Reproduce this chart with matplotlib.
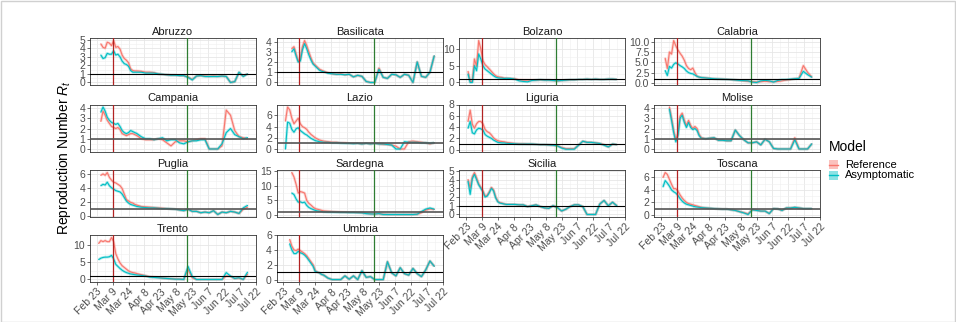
import numpy as np
import pandas as pd
import matplotlib
matplotlib.use("Agg")
import matplotlib.pyplot as plt
from matplotlib.lines import Line2D
from matplotlib.patches import Rectangle

plt.rcParams['font.family'] = ['Liberation Sans', 'DejaVu Sans']
plt.rcParams['mathtext.fontset'] = 'custom'
plt.rcParams['mathtext.rm'] = 'Liberation Sans'
plt.rcParams['mathtext.it'] = 'Liberation Sans:italic'

N = np.nan

# estimation dates: every 2 days until April 1, then every 4 days
early_dates = pd.date_range('2020-02-25', '2020-04-01', freq='2D')
late_dates = pd.date_range('2020-04-05', '2020-07-14', freq='4D')
dates = early_dates.append(late_dates)

lockdown_date = pd.Timestamp('2020-03-09')
reopening_date = pd.Timestamp('2020-05-18')

x_tick_dates = pd.date_range('2020-02-23', '2020-07-22', freq='15D')
x_tick_labels = ['Feb 23', 'Mar 9', 'Mar 24', 'Apr 8', 'Apr 23', 'May 8',
                 'May 23', 'Jun 7', 'Jun 22', 'Jul 7', 'Jul 22']

regions = ['Abruzzo', 'Basilicata', 'Bolzano', 'Calabria',
           'Campania', 'Lazio', 'Liguria', 'Molise',
           'Puglia', 'Sardegna', 'Sicilia', 'Toscana',
           'Trento', 'Umbria']

abruzzo_ref = [N, 4.5, 4.1, 4.0, 4.7, 4.6, 4.3, 4.9, 4.1, 4.2, 3.9, 3.2, 2.8, 2.6, 2.3, 1.6, 1.4, 1.35, 1.35,
               1.3, 1.2, 1.2, 1.15, 1.0, 0.95, 0.9, 0.85, 0.85, 0.8, 0.8, 0.65, 0.35, 0.75, 0.8, 0.75, 0.7,
               0.75, 0.7, 0.75, 0.7, 0.0, 0.1, 1.15, 0.75, 1.0]
abruzzo_asym = [N, 3.2, 2.8, 2.9, 3.4, 3.3, 3.3, 3.7, 3.2, 3.3, 3.0, 2.5, 2.2, 2.1, 1.9, 1.4, 1.2, 1.2, 1.2,
                1.2, 1.1, 1.1, 1.1, 1.0, 0.95, 0.9, 0.85, 0.85, 0.8, 0.8, 0.6, 0.3, 0.75, 0.8, 0.7, 0.7,
                0.7, 0.7, 0.75, 0.7, 0.0, 0.1, 1.2, 0.7, 1.0]

basilicata_ref = [N, N, N, 3.3, 3.5, 2.8, 2.1, 2.3, 3.5, 4.1, 3.6, 3.0, 2.4, 1.9, 1.7, 1.5, 1.3, 1.2, 1.1,
                  0.95, 0.85, 0.8, 0.85, 0.75, 0.8, 0.55, 0.7, 0.6, 0.1, 0.0, 0.0, 1.4, 0.5, 0.4, 0.8, 0.75,
                  0.5, 0.8, 0.7, 0.0, 2.0, 0.6, 0.5, 1.0, 2.6]
basilicata_asym = [N, N, N, 3.0, 3.3, 2.6, 2.0, 2.1, 3.2, 3.8, 3.3, 2.7, 2.2, 1.8, 1.6, 1.4, 1.2, 1.1, 1.05,
                   0.9, 0.85, 0.8, 0.8, 0.75, 0.8, 0.55, 0.7, 0.6, 0.1, 0.0, 0.0, 1.3, 0.5, 0.4, 0.8, 0.75,
                   0.5, 0.8, 0.7, 0.0, 2.0, 0.6, 0.5, 1.0, 2.6]

bolzano_ref = [3.3, 0.3, 0.3, 7.0, 4.8, 12.5, 10.0, 6.5, 5.3, 4.7, 4.0, 3.3, 2.6, 2.0, 1.7, 1.6, 1.5, 1.3, 1.25,
               1.2, 1.1, 0.8, 0.7, 0.7, 0.7, 0.7, 0.8, 0.7, 0.7, 0.6, 0.5, 0.6, 0.7, 0.8, 0.8,
               0.9, 0.9, 1.0, 0.9, 1.0, 0.9, 0.9, 1.0, 1.0, 0.9]
bolzano_asym = [2.5, 0.0, 0.0, 5.0, 3.5, 8.5, 7.0, 5.0, 4.0, 3.5, 3.0, 2.5, 2.0, 1.6, 1.4, 1.3, 1.3, 1.2, 1.25,
                1.2, 1.0, 0.5, 0.3, 0.2, 0.6, 0.7, 0.8, 0.7, 0.7, 0.6, 0.5, 0.6, 0.7, 0.8, 0.8,
                0.9, 0.9, 1.0, 0.9, 1.0, 0.9, 0.9, 1.0, 1.0, 0.9]

calabria_ref = [N, 6.0, 3.5, 7.5, 7.0, 10.3, 9.0, 8.0, 7.2, 6.5, 5.5, 4.2, 3.5, 3.2, 3.6, 2.5, 1.6, 1.4, 1.3,
                1.2, 1.1, 1.0, 0.95, 0.9, 0.85, 0.8, 0.7, 0.6, 0.5, 0.4, 0.3, 0.2, 0.3, 0.4, 0.3,
                0.3, 0.35, 0.5, 0.7, 0.8, 1.0, 1.1, 4.2, 2.6, 1.4]
calabria_asym = [N, 3.0, 1.8, 4.0, 3.6, 4.5, 4.9, 4.6, 4.2, 3.9, 3.5, 2.9, 2.5, 2.3, 2.2, 1.9, 1.6, 1.4, 1.3,
                 1.2, 1.1, 1.0, 0.95, 0.9, 0.85, 0.8, 0.7, 0.6, 0.55, 0.5, 0.2, 0.1, 0.5, 0.6, 0.5,
                 0.2, 0.6, 0.8, 0.8, 0.9, 1.0, 1.1, 2.8, 2.0, 1.4]

campania_ref = [N, 2.7, 3.7, 3.3, 2.8, 2.5, 2.2, 2.1, 2.0, 2.1, 1.9, 1.5, 1.4, 1.3, 1.4, 1.5, 1.5, 1.4, 1.3,
                1.0, 0.9, 0.9, 0.9, 1.0, 0.9, 0.6, 0.3, 0.7, 0.8, 0.8, 0.7, 0.8, 0.9, 1.0, 1.0,
                0.0, 0.0, 0.0, 0.3, 3.8, 3.3, 1.8, 1.2, 1.1, 1.0]
campania_asym = [N, 3.6, 4.1, 3.7, 3.1, 2.8, 2.6, 2.5, 2.4, 2.5, 2.2, 1.8, 1.6, 1.5, 1.6, 1.8, 1.7, 1.6, 1.5,
                 1.2, 1.0, 1.0, 0.9, 1.0, 1.1, 0.8, 0.9, 0.9, 0.6, 0.5, 0.7, 0.8, 0.8, 0.9, 0.9,
                 0.0, 0.0, 0.0, 0.5, 1.6, 2.0, 1.4, 1.2, 1.0, 1.1]

lazio_ref = [5.0, 7.5, 7.0, 5.5, 4.5, 5.0, 5.5, 4.5, 4.0, 3.8, 3.5, 3.0, 2.6, 2.3, 2.0, 1.8, 1.6, 1.5, 1.4,
             1.3, 1.2, 1.2, 1.1, 1.1, 1.0, 1.0, 1.0, 0.9, 1.0, 0.9, 1.0, 0.9, 0.8, 0.8, 0.7,
             0.5, 0.0, 0.0, 1.3, 1.4, 1.3, 1.2, 1.1, 0.9, 1.1]
lazio_asym = [0.0, 4.8, 4.6, 3.5, 3.0, 3.6, 3.8, 3.3, 3.0, 2.7, 2.5, 2.2, 1.9, 1.7, 1.5, 1.4, 1.3, 1.25, 1.2,
              1.2, 1.1, 1.1, 1.05, 1.0, 1.0, 0.95, 1.0, 0.9, 1.0, 0.9, 1.0, 0.9, 0.9, 0.8, 0.7,
              0.0, 0.0, 1.3, 1.2, 1.2, 1.2, 1.1, 1.1, 1.0, 1.1]

liguria_ref = [5.0, 7.0, 4.5, 3.8, 4.6, 5.0, 5.0, 4.6, 3.6, 3.2, 3.0, 2.6, 2.1, 1.8, 1.6, 1.5, 1.45, 1.4, 1.3,
               1.2, 1.1, 1.05, 1.05, 1.0, 1.0, 0.95, 0.9, 0.9, 0.85, 0.8, 0.7, 0.4, 0.2, 0.2, 0.2,
               0.8, 1.5, 1.3, 1.3, 1.2, 1.1, 0.9, 0.5, 1.0, 0.9]
liguria_asym = [3.8, 5.0, 3.0, 2.8, 3.5, 3.8, 3.7, 3.5, 2.7, 2.4, 2.2, 2.0, 1.7, 1.5, 1.3, 1.25, 1.2, 1.2, 1.15,
                1.1, 1.05, 1.0, 1.0, 1.0, 1.0, 0.95, 0.9, 0.9, 0.85, 0.8, 0.7, 0.3, 0.1, 0.1, 0.1,
                0.8, 1.5, 1.3, 1.3, 1.2, 1.1, 0.8, 0.5, 1.0, 0.9]

molise_ref = [N, N, N, 4.1, 3.0, 1.8, 0.9, 1.5, 3.2, 3.5, 2.8, 2.3, 2.8, 2.3, 2.0, 2.2, 2.0, 1.4, 1.1,
              1.0, 1.05, 1.1, 0.85, 0.85, 0.8, 0.8, 1.85, 1.3, 0.9, 0.6, 0.6, 0.7, 0.4, 0.95, 0.7,
              0.05, 0.0, 0.0, 0.0, 0.0, 1.1, 0.0, 0.0, 0.0, 0.5]
molise_asym = [N, N, N, 3.9, 2.8, 1.6, 0.7, 1.3, 3.0, 3.3, 2.6, 2.1, 2.6, 2.1, 1.9, 2.0, 1.8, 1.3, 1.05,
               1.0, 1.05, 1.1, 0.85, 0.85, 0.8, 0.8, 1.85, 1.3, 0.9, 0.6, 0.6, 0.7, 0.4, 0.95, 0.7,
               0.05, 0.0, 0.0, 0.0, 0.0, 0.9, 0.0, 0.0, 0.0, 0.5]

puglia_ref = [N, 5.8, 6.0, 5.8, 6.2, 5.5, 5.1, 4.8, 4.7, 4.5, 4.3, 3.9, 3.1, 2.3, 2.1, 1.9, 1.8, 1.6, 1.5,
              1.3, 1.25, 1.2, 1.15, 1.1, 1.05, 1.0, 0.95, 0.9, 0.8, 0.7, 0.9, 0.6, 0.6, 0.4, 0.5,
              0.4, 0.7, 0.15, 0.5, 0.4, 0.6, 0.5, 0.3, 0.9, 1.2]
puglia_asym = [N, 4.3, 4.5, 4.4, 4.8, 4.3, 4.0, 3.8, 3.6, 3.5, 3.4, 3.1, 2.6, 2.1, 1.8, 1.6, 1.5, 1.4, 1.3,
               1.2, 1.15, 1.1, 1.1, 1.05, 1.0, 1.0, 0.95, 0.9, 0.8, 0.7, 0.9, 0.6, 0.6, 0.4, 0.5,
               0.4, 0.7, 0.15, 0.5, 0.4, 0.6, 0.5, 0.3, 1.1, 1.45]

sardegna_ref = [N, N, N, 14.5, 13.0, 10.5, 7.5, 8.0, 7.8, 7.5, 5.0, 4.0, 3.4, 2.7, 2.2, 2.0, 1.8, 1.6, 1.4,
                1.3, 1.2, 1.1, 1.0, 0.95, 0.9, 0.9, 0.85, 0.8, 0.6, 0.45, 0.4, 0.5, 0.3, 0.2, 0.2,
                0.2, 0.2, 0.2, 0.2, 0.2, 0.3, 0.8, 1.7, 2.1, 1.9]
sardegna_asym = [N, N, N, 7.5, 7.0, 5.5, 4.4, 4.5, 4.2, 4.4, 3.3, 2.6, 2.2, 1.9, 1.6, 1.4, 1.3, 1.2, 1.1,
                 1.0, 1.0, 0.95, 0.9, 0.9, 0.85, 0.85, 0.8, 0.75, 0.5, 0.4, 0.35, 0.5, 0.2, 0.2, 0.2,
                 0.2, 0.2, 0.2, 0.2, 0.2, 0.3, 1.2, 2.0, 2.4, 2.0]

sicilia_ref = [4.0, 3.0, 4.3, 4.8, 4.2, 3.5, 3.1, 2.7, 2.1, 2.2, 2.6, 3.1, 2.8, 2.0, 1.5, 1.35, 1.3, 1.2, 1.15,
               1.15, 1.15, 1.1, 1.1, 0.9, 1.0, 1.1, 0.9, 0.75, 0.7, 1.0, 0.8, 0.4, 0.6, 0.9, 1.1,
               1.1, 0.9, 0.0, 0.0, 0.0, 1.2, 1.6, 1.0, 1.4, 1.0]
sicilia_asym = [3.8, 2.3, 4.1, 4.6, 4.0, 3.4, 3.0, 2.6, 2.0, 2.1, 2.5, 3.0, 2.7, 1.9, 1.45, 1.3, 1.25, 1.2, 1.15,
                1.15, 1.15, 1.1, 1.1, 0.9, 1.0, 1.1, 0.9, 0.75, 0.7, 1.0, 0.8, 0.4, 0.6, 0.9, 1.1,
                1.1, 0.9, 0.0, 0.0, 0.0, 1.2, 1.6, 1.0, 1.4, 1.0]

toscana_ref = [6.0, 6.8, 6.5, 5.7, 4.9, 4.2, 4.2, 3.8, 3.2, 2.7, 2.3, 2.0, 1.8, 1.7, 1.6, 1.5, 1.4, 1.3, 1.2,
               1.1, 1.05, 1.0, 0.95, 0.9, 0.9, 0.8, 0.7, 0.5, 0.35, 0.15, 0.8, 0.75, 0.6, 0.6, 0.2,
               1.0, 0.95, 0.7, 1.1, 1.1, 1.2, 1.1, 1.0, 1.0, 1.0]
toscana_asym = [4.5, 5.5, 5.1, 4.6, 4.0, 3.7, 3.5, 3.1, 2.6, 2.2, 1.9, 1.7, 1.6, 1.5, 1.4, 1.3, 1.25, 1.2, 1.15,
                1.1, 1.05, 1.0, 0.95, 0.9, 0.9, 0.8, 0.7, 0.5, 0.3, 0.05, 0.8, 0.7, 0.6, 0.6, 0.2,
                1.0, 0.95, 0.7, 1.1, 1.1, 1.2, 1.1, 1.0, 1.0, 1.0]

trento_ref = [10.5, 11.3, 11.0, 11.3, 11.0, 11.0, 12.2, 11.0, 7.5, 6.0, 4.8, 4.0, 3.5, 3.0, 2.5, 2.2, 2.0, 1.9, 1.7,
              1.4, 1.1, 0.8, 0.7, 0.6, 0.4, 0.3, 0.2, 0.15, 0.1, 0.0, 3.0, 0.5, 0.0, 0.0, 0.0,
              0.0, 0.0, 0.0, 0.0, 1.0, 0.9, 0.3, 0.4, 0.0, 1.5]
trento_asym = [5.8, 6.2, 6.4, 6.5, 6.5, 6.6, 7.0, 6.0, 4.4, 3.8, 3.2, 2.7, 2.3, 2.0, 1.8, 1.6, 1.5, 1.4, 1.3,
               1.2, 1.0, 0.7, 0.6, 0.5, 0.4, 0.3, 0.2, 0.1, 0.1, 0.0, 3.8, 0.8, 0.0, 0.0, 0.0,
               0.0, 0.0, 0.0, 0.0, 2.0, 1.0, 0.3, 0.5, 0.0, 2.1]

umbria_ref = [N, N, 5.4, 4.5, 4.0, 3.9, 4.1, 3.9, 3.7, 3.5, 3.2, 2.8, 2.4, 2.0, 1.2, 1.0, 0.9, 0.7, 0.6,
              0.2, 0.0, 0.0, 0.0, 0.5, 0.05, 0.5, 0.0, 1.2, 0.3, 0.4, 0.0, 0.0, 0.0, 2.4, 0.9,
              0.5, 1.6, 0.8, 0.6, 1.5, 0.8, 0.4, 1.3, 2.5, 1.8]
umbria_asym = [N, N, 4.8, 4.0, 3.5, 3.5, 3.8, 3.6, 3.5, 3.3, 3.0, 2.6, 2.2, 1.8, 1.1, 1.0, 0.9, 0.7, 0.6,
               0.2, 0.0, 0.0, 0.0, 0.5, 0.05, 0.5, 0.0, 1.2, 0.3, 0.4, 0.0, 0.0, 0.0, 2.4, 0.9,
               0.5, 1.6, 0.8, 0.6, 1.5, 0.8, 0.4, 1.3, 2.5, 1.8]

reference_series = [abruzzo_ref, basilicata_ref, bolzano_ref, calabria_ref,
                    campania_ref, lazio_ref, liguria_ref, molise_ref,
                    puglia_ref, sardegna_ref, sicilia_ref, toscana_ref,
                    trento_ref, umbria_ref]
asymptomatic_series = [abruzzo_asym, basilicata_asym, bolzano_asym, calabria_asym,
                       campania_asym, lazio_asym, liguria_asym, molise_asym,
                       puglia_asym, sardegna_asym, sicilia_asym, toscana_asym,
                       trento_asym, umbria_asym]

y_ticks = [[0, 1, 2, 3, 4, 5], [0, 1, 2, 3, 4], [0, 5, 10], [0, 2.5, 5, 7.5, 10],
           [0, 1, 2, 3, 4], [0, 2, 4, 6], [0, 2, 4, 6, 8], [0, 1, 2, 3, 4],
           [0, 2, 4, 6], [0, 5, 10, 15], [0, 1, 2, 3, 4, 5], [0, 2, 4, 6],
           [0, 5, 10], [0, 2, 4, 6]]
y_tick_labels = [['0', '1', '2', '3', '4', '5'], ['0', '1', '2', '3', '4'], ['0', '5', '10'],
                 ['0.0', '2.5', '5.0', '7.5', '10.0'],
                 ['0', '1', '2', '3', '4'], ['0', '2', '4', '6'], ['0', '2', '4', '6', '8'],
                 ['0', '1', '2', '3', '4'],
                 ['0', '2', '4', '6'], ['0', '5', '10', '15'], ['0', '1', '2', '3', '4', '5'],
                 ['0', '2', '4', '6'],
                 ['0', '5', '10'], ['0', '2', '4', '6']]

REF_COLOR = '#F8766D'
ASYM_COLOR = '#00BFC4'

W, H = 956, 322
fig = plt.figure(figsize=(W / 100, H / 100), dpi=100)
fig.patch.set_facecolor('white')

col_left = [90, 276.7, 459.3, 654.3]
row_top = [38, 104.5, 170, 235]
panel_w, panel_h = 166, 47

# panels whose threshold line is rendered heavier and grey
grey_threshold = {'Campania', 'Lazio', 'Molise', 'Puglia', 'Sardegna', 'Toscana'}
# panels carrying the date axis
bottom_panels = {'Sicilia', 'Toscana', 'Trento', 'Umbria'}

x_lo = pd.Timestamp('2020-02-16 18:00')
x_hi = pd.Timestamp('2020-07-22 00:00')
x_minor = x_tick_dates[:-1] + pd.Timedelta(hours=180)

for i, name in enumerate(regions):
    r, c = divmod(i, 4)
    x, y = col_left[c], row_top[r]
    ax = fig.add_axes([x / W, 1 - (y + panel_h) / H, panel_w / W, panel_h / H])
    ax.set_facecolor('white')
    ref = np.array(reference_series[i], dtype=float)
    asym = np.array(asymptomatic_series[i], dtype=float)

    # shaded bands then central estimates
    ax.plot(dates, ref, color=REF_COLOR, lw=2.0, alpha=0.3, solid_capstyle='butt', zorder=2)
    ax.plot(dates, asym, color=ASYM_COLOR, lw=2.0, alpha=0.3, solid_capstyle='butt', zorder=2)
    ax.plot(dates, ref, color=REF_COLOR, lw=0.8, zorder=3)
    ax.plot(dates, asym, color=ASYM_COLOR, lw=0.8, zorder=3)

    ax.axvline(lockdown_date, color='#B22222', lw=0.9, zorder=4)
    ax.axvline(reopening_date, color='#2E7D32', lw=0.9, zorder=4)
    if name in grey_threshold:
        ax.axhline(1, color='#555555', lw=1.2, zorder=4)
    else:
        ax.axhline(1, color='black', lw=0.8, zorder=4)

    lo = np.nanmin([np.nanmin(ref), np.nanmin(asym)])
    hi = np.nanmax([np.nanmax(ref), np.nanmax(asym)])
    span = hi - lo
    ax.set_ylim(lo - 0.06 * span, hi + 0.06 * span)
    ax.set_xlim(x_lo, x_hi)

    ax.set_yticks(y_ticks[i])
    ax.set_yticklabels(y_tick_labels[i])
    yt = y_ticks[i]
    ax.set_yticks([(a + b) / 2 for a, b in zip(yt[:-1], yt[1:])], minor=True)
    ax.set_xticks(x_tick_dates)
    ax.set_xticks(x_minor, minor=True)

    ax.grid(which='major', color='#E6E6E6', lw=0.6)
    ax.grid(which='minor', color='#F0F0F0', lw=0.4)
    ax.set_axisbelow(True)

    for s in ax.spines.values():
        s.set_color('#333333')
        s.set_linewidth(0.6)

    ax.tick_params(axis='y', which='major', length=2, width=0.5, color='#333333',
                   labelsize=7.5, labelcolor='#4D4D4D', pad=1.5)
    ax.tick_params(axis='both', which='minor', length=0)
    if name in bottom_panels:
        ax.set_xticklabels(x_tick_labels, rotation=45, ha='right', rotation_mode='anchor')
        ax.tick_params(axis='x', which='major', length=2, width=0.5, color='#333333',
                       labelsize=7.5, labelcolor='#4D4D4D', pad=1.5)
    else:
        ax.tick_params(axis='x', which='major', length=0, labelbottom=False)

    ax.set_title(name, fontsize=8, color='#1A1A1A', pad=2.5)

fig.text(64 / W, 1 - 158 / H, 'Reproduction Number $R_t$', rotation=90,
         ha='center', va='center', fontsize=10, color='black')

# legend
fig.text(829 / W, 1 - 147 / H, 'Model', ha='left', va='center', fontsize=10, color='black')
legend_items = [('Reference', REF_COLOR, 164.5), ('Asymptomatic', ASYM_COLOR, 175)]
for label, col, yc in legend_items:
    fig.add_artist(Rectangle((829 / W, 1 - (yc + 4.5) / H), 9 / W, 9 / H,
                             transform=fig.transFigure, facecolor=col, alpha=0.45,
                             edgecolor='none'))
    fig.add_artist(Line2D([829 / W, 838 / W], [1 - yc / H, 1 - yc / H],
                          transform=fig.transFigure, color=col, lw=1.0))
    fig.text(845 / W, 1 - yc / H, label, ha='left', va='center', fontsize=8, color='black')

# thin frame around the whole figure
fig.add_artist(Rectangle((0.5 / W, 0.5 / H), (W - 1.5) / W, (H - 1.5) / H,
                         transform=fig.transFigure, facecolor='none',
                         edgecolor='#D0D0D0', lw=1.0))

fig.savefig('out.png', dpi=100, facecolor='white')
